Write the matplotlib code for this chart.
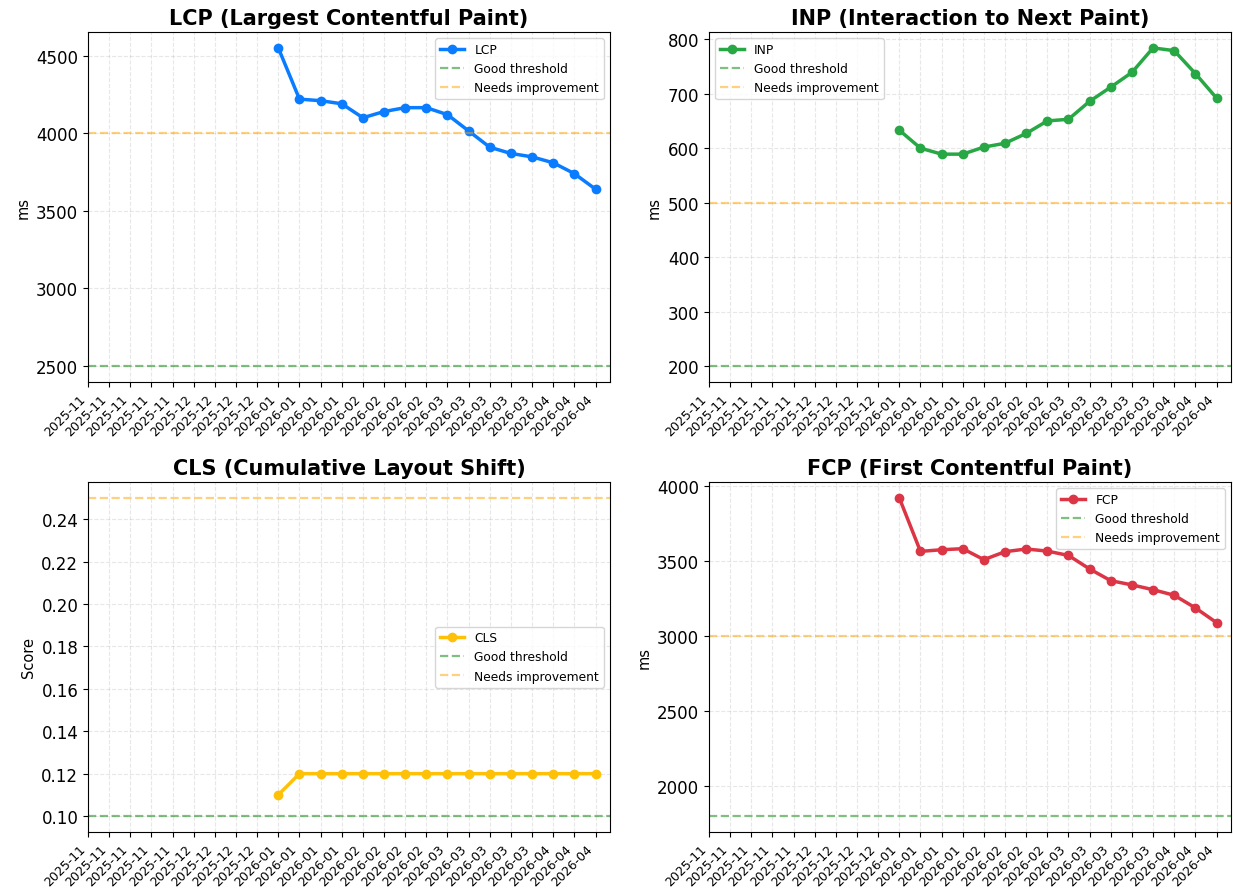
import numpy as np
import pandas as pd
import matplotlib
matplotlib.use("Agg")
import matplotlib.pyplot as plt

# weekly buckets shown on the x axis
weeks = pd.date_range("2025-11-02", periods=25, freq="7D")
nan = np.nan

# field data per week (no data before January)
lcp = [nan] * 9 + [4550, 4220, 4210, 4190, 4100, 4140, 4165, 4165,
                   4120, 4015, 3910, 3870, 3848, 3810, 3740, 3640]
inp = [nan] * 9 + [633, 600, 589, 589, 602, 609, 627, 650,
                   653, 686, 712, 739, 784, 779, 737, 692]
cls = [nan] * 9 + [0.11, 0.12, 0.12, 0.12, 0.12, 0.12, 0.12, 0.12,
                   0.12, 0.12, 0.12, 0.12, 0.12, 0.12, 0.12, 0.12]
fcp = [nan] * 9 + [3918, 3562, 3573, 3580, 3507, 3560, 3578, 3564,
                   3535, 3445, 3367, 3339, 3307, 3270, 3186, 3088]

metrics = [
    ("LCP", "LCP (Largest Contentful Paint)", lcp, "#0a7cff", 2500, 4000, "ms", "upper right"),
    ("INP", "INP (Interaction to Next Paint)", inp, "#28a745", 200, 500, "ms", "upper left"),
    ("CLS", "CLS (Cumulative Layout Shift)", cls, "#ffc107", 0.1, 0.25, "Score", "center right"),
    ("FCP", "FCP (First Contentful Paint)", fcp, "#dc3545", 1800, 3000, "ms", "upper right"),
]

W, H = 1233, 895
fig, axes = plt.subplots(2, 2, figsize=(W / 100, H / 100), dpi=100)
fig.subplots_adjust(left=88 / W, right=1231 / W, top=1 - 33 / H, bottom=1 - 833 / H,
                    wspace=99 / 522, hspace=100 / 350)

labels = [d.strftime("%Y-%m") for d in weeks]

for ax, (name, title, vals, color, good, ni, unit, loc) in zip(axes.flat, metrics):
    ax.plot(weeks, vals, marker="o", color=color, linewidth=2.5, markersize=6, label=name)
    ax.axhline(good, color="green", linestyle="--", alpha=0.5, linewidth=1.6, label="Good threshold")
    ax.axhline(ni, color="orange", linestyle="--", alpha=0.5, linewidth=1.6, label="Needs improvement")
    ax.set_title(title, fontsize=15, fontweight="bold")
    ax.set_ylabel(unit, fontsize=10.5)
    ax.set_xticks(weeks)
    ax.set_xticklabels(labels, rotation=45, ha="right", fontsize=9)
    ax.set_xlim(weeks[0], weeks[-1] + pd.Timedelta(days=4.8))
    ax.tick_params(axis="y", labelsize=12)
    ax.grid(True, linestyle="--", alpha=0.3)
    ax.legend(loc=loc, fontsize=8.8)

fig.savefig("out.png", dpi=100)
